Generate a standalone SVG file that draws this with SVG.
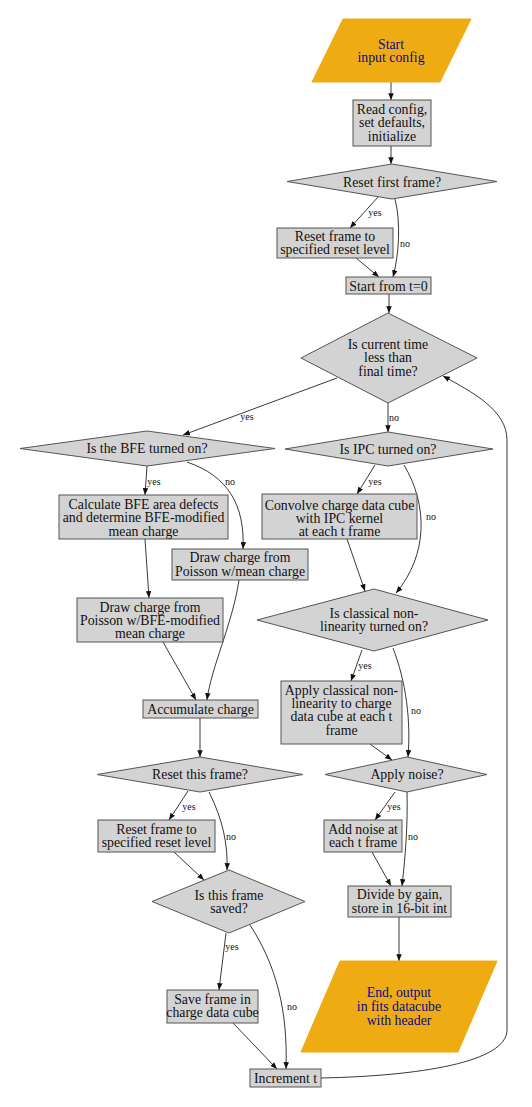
<svg xmlns="http://www.w3.org/2000/svg" width="532" height="1107" viewBox="0 0 532 1107">
<style>
.box{fill:#d3d3d3;stroke:#555;stroke-width:1}
.io{fill:#eeac12;stroke:#eeac12;stroke-width:1}
.t{font-family:"Liberation Serif","DejaVu Serif",serif;font-size:13.8px;fill:#111;text-anchor:middle}
.tio{font-family:"Liberation Serif","DejaVu Serif",serif;font-size:13.8px;fill:#0a0a8a;text-anchor:middle}
.e{fill:none;stroke:#222;stroke-width:0.9;marker-end:url(#ah)}
.l{font-family:"Liberation Serif","DejaVu Serif",serif;font-size:10px;fill:#111;text-anchor:middle}
</style>
<defs>
<marker id="ah" viewBox="0 0 10 8" refX="10" refY="4" markerUnits="userSpaceOnUse" markerWidth="7" markerHeight="5.5" orient="auto">
<path d="M0,0 L10,4 L0,8 Z" fill="#111"/>
</marker>
</defs>
<rect width="532" height="1107" fill="#fff"/>
<g id="connectors">
<path class="e" d="M391,82 L391,100"/>
<path class="e" d="M391,146 L391,164"/>
<path class="e" d="M378,197 L350,228"/>
<text class="l" x="375" y="216">yes</text>
<path class="e" d="M395,199 C401,222 399,255 393,277"/>
<text class="l" x="405" y="247">no</text>
<path class="e" d="M356,258 L379,277"/>
<path class="e" d="M389,294 L389,313"/>
<path class="e" d="M337,378 L183,435"/>
<text class="l" x="247" y="420">yes</text>
<path class="e" d="M388,403 L388,432"/>
<text class="l" x="394" y="421">no</text>
<path class="e" d="M147,466 L145,495"/>
<text class="l" x="154" y="485">yes</text>
<path class="e" d="M187,462 C228,476 245,505 243,549"/>
<text class="l" x="230" y="485">no</text>
<path class="e" d="M145,539 L149,598"/>
<path class="e" d="M163,642 L196,700"/>
<path class="e" d="M239,580 C233,622 211,668 207,700"/>
<path class="e" d="M200,718 L200,757"/>
<path class="e" d="M188,791 L169,820"/>
<text class="l" x="189" y="810">yes</text>
<path class="e" d="M209,792 C223,820 228,845 227,870"/>
<text class="l" x="231" y="840">no</text>
<path class="e" d="M174,852 L204,880"/>
<path class="e" d="M226,933 L219,990"/>
<text class="l" x="232" y="950">yes</text>
<path class="e" d="M250,925 C276,965 288,1010 286,1069"/>
<text class="l" x="292" y="1010">no</text>
<path class="e" d="M233,1023 L277,1069"/>
<path class="e" d="M321,1078 C420,1076 507,1062 507,1030 L507,440 C507,410 472,392 443,376"/>
<path class="e" d="M375,465 L357,494"/>
<text class="l" x="375" y="485">yes</text>
<path class="e" d="M404,465 C428,505 428,555 396,593"/>
<text class="l" x="431" y="520">no</text>
<path class="e" d="M347,539 L365,591"/>
<path class="e" d="M362,650 L351,681"/>
<text class="l" x="365" y="669">yes</text>
<path class="e" d="M393,648 C406,682 411,720 408,757"/>
<text class="l" x="416" y="714">no</text>
<path class="e" d="M370,744 L392,760"/>
<path class="e" d="M395,792 L375,820"/>
<text class="l" x="394" y="810">yes</text>
<path class="e" d="M407,792 C408,825 405,860 402,886"/>
<text class="l" x="413" y="840">no</text>
<path class="e" d="M372,852 L391,886"/>
<path class="e" d="M399,917 L399,961"/>
</g>
<g id="start">
<polygon class="io" points="343,19 471,19 440,82 312,82"/>
<text class="tio" x="391" y="49">Start</text>
<text class="tio" x="391" y="62">input config</text>
</g>
<g id="read">
<rect class="box" x="353" y="100" width="78" height="46"/>
<text class="t" x="392" y="114">Read config,</text>
<text class="t" x="392" y="127">set defaults,</text>
<text class="t" x="392" y="140.5">initialize</text>
</g>
<g id="resetFirst">
<polygon class="box" points="392,164 497,181.5 392,199 287,181.5"/>
<text class="t" x="392" y="186.5">Reset first frame?</text>
</g>
<g id="resetFrame1">
<rect class="box" x="277" y="228" width="116" height="30"/>
<text class="t" x="335" y="241">Reset frame to</text>
<text class="t" x="335" y="254">specified reset level</text>
</g>
<g id="start0">
<rect class="box" x="346" y="277" width="85" height="17"/>
<text class="t" x="388.5" y="290.5">Start from t=0</text>
</g>
<g id="mainLoop">
<polygon class="box" points="388,313 477,358 388,403 301,358"/>
<text class="t" x="388" y="348.5">Is current time</text>
<text class="t" x="388" y="362">less than</text>
<text class="t" x="388" y="375.5">final time?</text>
</g>
<g id="bfe">
<polygon class="box" points="147,431 275,448.5 147,466 20,448.5"/>
<text class="t" x="147" y="453">Is the BFE turned on?</text>
</g>
<g id="ipc">
<polygon class="box" points="388,432 493,449 388,466 285,449"/>
<text class="t" x="388" y="453.5">Is IPC turned on?</text>
</g>
<g id="calcBFE">
<rect class="box" x="59" y="495" width="169" height="44"/>
<text class="t" x="143.5" y="508.5">Calculate BFE area defects</text>
<text class="t" x="143.5" y="522">and determine BFE-modified</text>
<text class="t" x="143.5" y="535.5">mean charge</text>
</g>
<g id="poissonMean">
<rect class="box" x="172" y="549" width="136" height="31"/>
<text class="t" x="240" y="561.5">Draw charge from</text>
<text class="t" x="240" y="576">Poisson w/mean charge</text>
</g>
<g id="poissonBFE">
<rect class="box" x="77" y="598" width="146" height="44"/>
<text class="t" x="150" y="611.5">Draw charge from</text>
<text class="t" x="150" y="625">Poisson w/BFE-modified</text>
<text class="t" x="150" y="638">mean charge</text>
</g>
<g id="accumulate">
<rect class="box" x="143" y="700" width="115" height="18"/>
<text class="t" x="200.5" y="713.5">Accumulate charge</text>
</g>
<g id="resetThis">
<polygon class="box" points="200,757 303,774.5 200,792 97,774.5"/>
<text class="t" x="200" y="779">Reset this frame?</text>
</g>
<g id="resetFrame2">
<rect class="box" x="98" y="820" width="117" height="32"/>
<text class="t" x="156.5" y="833.5">Reset frame to</text>
<text class="t" x="156.5" y="847">specified reset level</text>
</g>
<g id="saved">
<polygon class="box" points="229,870 305,901.5 229,933 152,901.5"/>
<text class="t" x="229" y="899.5">Is this frame</text>
<text class="t" x="229" y="913">saved?</text>
</g>
<g id="saveFrame">
<rect class="box" x="167" y="990" width="91" height="33"/>
<text class="t" x="212.5" y="1003.5">Save frame in</text>
<text class="t" x="212.5" y="1017">charge data cube</text>
</g>
<g id="increment">
<rect class="box" x="250" y="1069" width="71" height="18"/>
<text class="t" x="285.5" y="1082.5">Increment t</text>
</g>
<g id="convolve">
<rect class="box" x="262" y="494" width="155" height="45"/>
<text class="t" x="339.5" y="509.5">Convolve charge data cube</text>
<text class="t" x="339.5" y="522.5">with IPC kernel</text>
<text class="t" x="339.5" y="536">at each t frame</text>
</g>
<g id="classical">
<polygon class="box" points="374,589 488,620 374,651 257,620"/>
<text class="t" x="374" y="617.5">Is classical non-</text>
<text class="t" x="374" y="631">linearity turned on?</text>
</g>
<g id="applyClassical">
<rect class="box" x="281" y="681" width="121" height="63"/>
<text class="t" x="341.5" y="694.5">Apply classical non-</text>
<text class="t" x="341.5" y="708">linearity to charge</text>
<text class="t" x="341.5" y="721">data cube at each t</text>
<text class="t" x="341.5" y="734.5">frame</text>
</g>
<g id="noise">
<polygon class="box" points="407,757 487,774.5 407,792 325,774.5"/>
<text class="t" x="407" y="779">Apply noise?</text>
</g>
<g id="addNoise">
<rect class="box" x="324" y="820" width="78" height="32"/>
<text class="t" x="363" y="833.5">Add noise at</text>
<text class="t" x="363" y="847">each t frame</text>
</g>
<g id="divide">
<rect class="box" x="348" y="886" width="103" height="31"/>
<text class="t" x="399.5" y="899">Divide by gain,</text>
<text class="t" x="399.5" y="912.5">store in 16-bit int</text>
</g>
<g id="end">
<polygon class="io" points="340,961 497,961 458,1052 301,1052"/>
<text class="tio" x="399" y="996.5">End, output</text>
<text class="tio" x="399" y="1011">in fits datacube</text>
<text class="tio" x="399" y="1024.5">with header</text>
</g>
</svg>
